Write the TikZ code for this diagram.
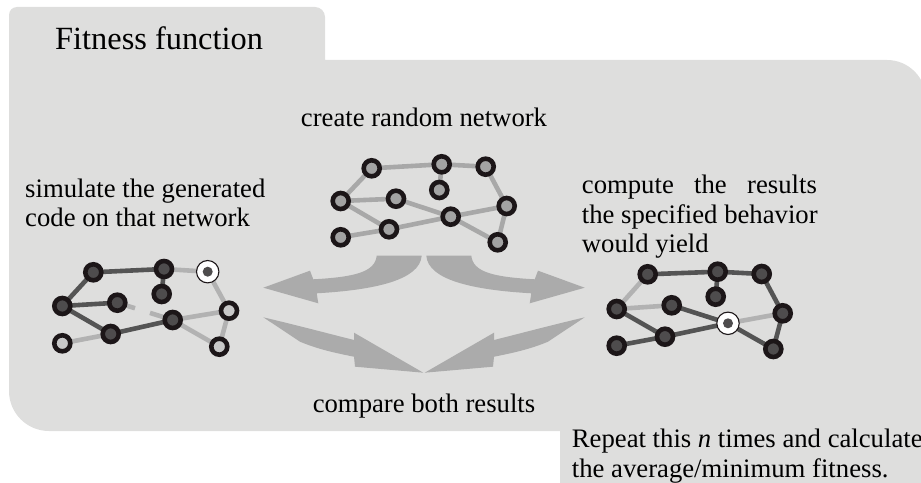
\documentclass[tikz,border=0pt]{standalone}
\usepackage{fontspec}
\setmainfont{Liberation Serif}
\usetikzlibrary{calc}

\definecolor{bgray}{RGB}{222,222,221}
\definecolor{arrowc}{RGB}{171,171,171}
\definecolor{ringc}{RGB}{28,22,24}
\definecolor{ctredge}{RGB}{168,168,168}
\definecolor{ctrfill}{RGB}{163,163,163}
\definecolor{darkedge}{RGB}{84,84,84}
\definecolor{lightedge}{RGB}{178,178,178}
\definecolor{darkfill}{RGB}{78,76,77}
\definecolor{lightfill}{RGB}{200,200,200}

\pgfdeclarelayer{edgelayer}
\pgfsetlayers{edgelayer,main}

\begin{document}
\begin{tikzpicture}[x=1bp,y=-1bp,
  nd/.style={circle, inner sep=0pt, minimum size=16bp, line width=4.6bp, draw=ringc},
  ctr/.style={nd, fill=ctrfill},
  dk/.style={nd, fill=darkfill},
  lt/.style={nd, fill=lightfill},
  hl/.style={circle, inner sep=0pt, minimum size=22.4bp, line width=1.1bp, draw=ringc, fill=white,
    path picture={\fill[darkfill] (path picture bounding box.center) circle (5bp);}},
  cedge/.style={line width=4.6bp, draw=ctredge},
  dedge/.style={line width=4.6bp, draw=darkedge},
  ledge/.style={line width=4.6bp, draw=lightedge},
  bigarrow/.style={fill=arrowc},
  txt/.style={font=\fontsize{26.8}{30}\selectfont, inner sep=0pt, align=left},
  title/.style={font=\fontsize{32.5}{36}\selectfont, inner sep=0pt}]

\useasboundingbox (0,0) rectangle (921,483);
\clip (0,0) rectangle (921,483);

% panel with tab
\begin{pgfonlayer}{edgelayer}
\fill[bgray] (9,391) -- (9,15) .. controls (9,10.6) and (12.6,7) .. (17,7)
  -- (315,7) .. controls (320.5,7) and (325,11.5) .. (325,17)
  -- (325,60) -- (887,60) .. controls (908.5,60) and (926,77.5) .. (926,99)
  -- (926,500) -- (560,500) -- (560,431) -- (49,431)
  .. controls (26.9,431) and (9,413.1) .. (9,391) -- cycle;
\end{pgfonlayer}

% texts (multi-line nodes are anchored at their last baseline)
\node[title, anchor=base west] (ttl) at (55,50) {Fitness function};
\node[txt, anchor=base] (tcreate) at (424,127) {create random network};
\node[txt, anchor=base west] (tsim) at (25,227) {simulate the generated\\code on that network};
\node[txt, anchor=base west] (tcomp) at (581.7,253)
  {\makebox[235bp][s]{compute the results}\\the specified behavior\\would yield};
\node[txt, anchor=base] (tcmp) at (424,412) {compare both results};
\node[txt, anchor=base west] (trep) at (571.7,477)
  {Repeat this \textit{n} times and calculate\\the average/minimum fitness.};

% random network (centre)
\node[ctr] (cA) at (371.7,168.3) {};
\node[ctr] (cB) at (441.7,164.3) {};
\node[ctr] (cC) at (485.7,166.7) {};
\node[ctr] (cD) at (439.3,190) {};
\node[ctr] (cE) at (340.7,201) {};
\node[ctr] (cF) at (396,198.7) {};
\node[ctr] (cG) at (506.7,206) {};
\node[ctr] (cH) at (450.7,216.7) {};
\node[ctr] (cI) at (389,229.3) {};
\node[ctr] (cJ) at (340.7,237.3) {};
\node[ctr] (cK) at (497.7,242.3) {};

% simulated network (left)
\node[dk] (lA) at (93.3,272.3) {};
\node[dk] (lB) at (164,269) {};
\node[hl] (lC) at (207.7,271.7) {};
\node[dk] (lD) at (161.7,294) {};
\node[dk] (lE) at (62.3,306) {};
\node[dk] (lF) at (117.3,302.7) {};
\node[lt] (lG) at (229,310.7) {};
\node[dk] (lH) at (172.7,320) {};
\node[dk] (lI) at (110.7,334) {};
\node[lt] (lJ) at (62.3,343.3) {};
\node[lt] (lK) at (219.3,346.7) {};

% expected network (right)
\node[dk] (rA) at (647.7,274.3) {};
\node[dk] (rB) at (717.7,271.7) {};
\node[dk] (rC) at (761.7,274) {};
\node[dk] (rD) at (715.7,296.7) {};
\node[dk] (rE) at (616.7,309) {};
\node[dk] (rF) at (671.7,305.3) {};
\node[dk] (rG) at (782.7,313.3) {};
\node[hl] (rH) at (728,323.3) {};
\node[dk] (rI) at (665,336.7) {};
\node[dk] (rJ) at (616.7,345.7) {};
\node[dk] (rK) at (773.3,349) {};

\begin{pgfonlayer}{edgelayer}
% centre links
\draw[cedge] (cA.center) -- (cB.center) -- (cC.center) -- (cG.center) -- (cK.center) -- (cH.center);
\draw[cedge] (cB.center) -- (cD.center);
\draw[cedge] (cA.center) -- (cE.center) -- (cF.center) -- (cH.center) -- (cG.center);
\draw[cedge] (cE.center) -- (cI.center) -- (cH.center);
\draw[cedge] (cJ.center) -- (cI.center);
% left links
\draw[dedge] (lB.center) -- (lA.center) -- (lE.center) -- (lF.center);
\draw[dedge] (lB.center) -- (lD.center);
\draw[dedge] (lE.center) -- (lI.center) -- (lH.center);
\draw[ledge] (lB.center) -- (lC.center) -- (lG.center) -- (lK.center) -- (lH.center) -- (lG.center);
\draw[ledge] (lJ.center) -- (lI.center);
\draw[ledge] (lF.center) -- ($(lF.center)!0.32!(lH.center)$);
\draw[ledge] ($(lF.center)!0.59!(lH.center)$) -- (lH.center);
% right links
\draw[dedge] (rA.center) -- (rB.center) -- (rC.center) -- (rG.center) -- (rK.center) -- (rH.center);
\draw[dedge] (rB.center) -- (rD.center);
\draw[dedge] (rE.center) -- (rI.center) -- (rH.center) -- (rF.center);
\draw[dedge] (rJ.center) -- (rI.center);
\draw[ledge] (rA.center) -- (rE.center) -- (rF.center);
\draw[ledge] (rH.center) -- (rG.center);
\end{pgfonlayer}

% flow arrows
\begin{scope}
\fill[bigarrow] (376.7,255.7) .. controls (375,272) and (355,277) .. (313.3,279.3)
  -- (310,270.7) -- (263.3,287.7) -- (318.3,303.3) -- (316.7,293.3)
  .. controls (375,290) and (420,280) .. (421.7,255.7) -- cycle;
\fill[bigarrow] (263.3,317.3) .. controls (300,326) and (330,334) .. (354,340)
  -- (354,332.7) -- (423.3,372.7) -- (355,366.7) -- (354,356.7)
  .. controls (330,352) and (315,348) .. (300,341.7) -- cycle;
\end{scope}
\begin{scope}[xshift=848bp, xscale=-1]
\fill[bigarrow] (376.7,255.7) .. controls (375,272) and (355,277) .. (313.3,279.3)
  -- (310,270.7) -- (263.3,287.7) -- (318.3,303.3) -- (316.7,293.3)
  .. controls (375,290) and (420,280) .. (421.7,255.7) -- cycle;
\fill[bigarrow] (263.3,317.3) .. controls (300,326) and (330,334) .. (354,340)
  -- (354,332.7) -- (423.3,372.7) -- (355,366.7) -- (354,356.7)
  .. controls (330,352) and (315,348) .. (300,341.7) -- cycle;
\end{scope}

\end{tikzpicture}
\end{document}
